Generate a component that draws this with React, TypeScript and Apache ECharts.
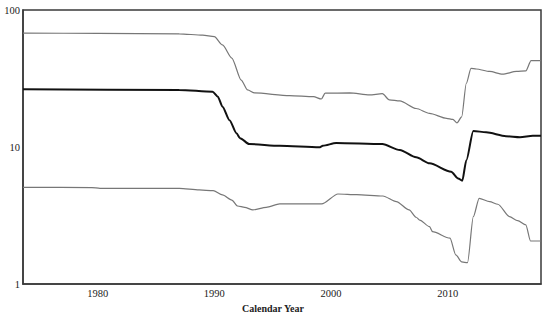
import React, { useEffect, useRef } from "react";
import * as echarts from "echarts";

const xTickLabels = [1980, 1990, 2000, 2010];
const yTickLabels = [1, 10, 100];

const upperYears = [1973.6, 1980, 1987, 1989, 1990, 1990.7, 1991.5, 1992.3, 1992.85, 1993.45, 1996.45, 1998.5, 1999.17, 1999.5, 2001.6, 2003.3, 2004.4, 2005.0, 2005.9, 2007.3, 2008.45, 2009.9, 2010.45, 2010.8, 2011.2, 2011.6, 2012.0, 2012.45, 2013.6, 2014.7, 2015.9, 2016.7, 2017.15, 2018];
const upperValues = [67.9, 67.5, 67, 65.5, 63.9, 55.6, 44.6, 30.8, 26.1, 24.8, 23.7, 23.3, 22.4, 24.7, 24.8, 24.0, 24.5, 22.1, 21.7, 19.1, 17.6, 16.2, 15.9, 15.0, 16.6, 29.2, 37.5, 37.1, 35.6, 34.0, 35.6, 35.9, 42.7, 42.7];

const middleYears = [1973.6, 1987, 1989.85, 1990.3, 1990.7, 1991.3, 1991.9, 1992.2, 1993.0, 1995.6, 1999.0, 1999.3, 2000.45, 2004.4, 2005.9, 2007.3, 2008.45, 2010.3, 2010.9, 2011.25, 2011.6, 2012.2, 2013.3, 2015.0, 2016.2, 2017.3, 2018];
const middleValues = [26.4, 26.1, 25.3, 23.3, 19.7, 15.7, 12.6, 11.6, 10.5, 10.2, 9.95, 10.2, 10.7, 10.5, 9.5, 8.4, 7.6, 6.6, 5.9, 5.67, 8.0, 13.1, 12.8, 12.0, 11.8, 12.1, 12.1];

const lowerYears = [1973.6, 1979.5, 1980.2, 1987.0, 1988.7, 1989.9, 1990.7, 1991.5, 1992.0, 1992.6, 1993.3, 1994.45, 1995.6, 1999.2, 2000.6, 2002.2, 2004.45, 2005.6, 2006.7, 2007.3, 2007.6, 2008.45, 2008.7, 2010.2, 2010.7, 2011.2, 2011.7, 2012.2, 2012.7, 2013.6, 2014.3, 2015.3, 2016.0, 2016.7, 2017.1, 2018];
const lowerValues = [5.08, 5.06, 4.99, 4.99, 4.86, 4.80, 4.47, 4.10, 3.71, 3.63, 3.47, 3.63, 3.84, 3.84, 4.54, 4.49, 4.39, 3.99, 3.47, 3.07, 2.93, 2.62, 2.41, 2.16, 1.63, 1.45, 1.43, 3.10, 4.22, 3.99, 3.82, 3.10, 2.90, 2.70, 2.06, 2.06];

const pairs = (xs: number[], ys: number[]) => xs.map((x, i) => [x, ys[i]]);

export default function App() {
  const ref = useRef<HTMLDivElement>(null);
  useEffect(() => {
    if (!ref.current) return;
    const chart = echarts.init(ref.current, null, { renderer: "svg" });
    const font = "'Liberation Serif', 'DejaVu Serif', serif";
    const lineBase = { type: "line", showSymbol: false, smooth: 0.25, smoothMonotone: "x" };
    chart.setOption({
      animation: false,
      backgroundColor: "#ffffff",
      grid: {
        left: 23,
        right: 9,
        top: 10,
        bottom: 36,
        show: true,
        borderColor: "#3a3a3a",
        borderWidth: 1.5,
      },
      xAxis: {
        type: "value",
        min: 1973.6,
        max: 2018,
        axisLine: { show: true, lineStyle: { color: "#3a3a3a", width: 1.5 } },
        axisTick: { show: false },
        splitLine: { show: false },
        axisLabel: {
          customValues: xTickLabels,
          formatter: (v: number) => String(v),
          color: "#222",
          fontFamily: font,
          fontSize: 10.5,
          margin: 4,
        },
      },
      yAxis: {
        type: "log",
        logBase: 10,
        min: 1,
        max: 100,
        axisLine: { show: true, lineStyle: { color: "#3a3a3a", width: 1.5 } },
        axisTick: { show: false },
        splitLine: { show: false },
        axisLabel: {
          customValues: yTickLabels,
          formatter: (v: number) => String(v),
          color: "#222",
          fontFamily: font,
          fontSize: 10.5,
          margin: 3,
        },
      },
      graphic: [
        {
          type: "text",
          left: 273 - 31,
          top: 303,
          style: {
            text: "Calendar Year",
            fontFamily: font,
            fontSize: 10,
            fontWeight: "bold",
            fill: "#222",
          },
        },
      ],
      series: [
        {
          ...lineBase,
          data: pairs(upperYears, upperValues),
          lineStyle: { color: "#777777", width: 1.2 },
        },
        {
          ...lineBase,
          data: pairs(middleYears, middleValues),
          lineStyle: { color: "#111111", width: 2 },
        },
        {
          ...lineBase,
          data: pairs(lowerYears, lowerValues),
          lineStyle: { color: "#777777", width: 1.2 },
        },
      ],
    });
    return () => chart.dispose();
  }, []);
  return <div ref={ref} style={{ width: 550, height: 320, position: "absolute", left: 0, top: 0 }} />;
}
